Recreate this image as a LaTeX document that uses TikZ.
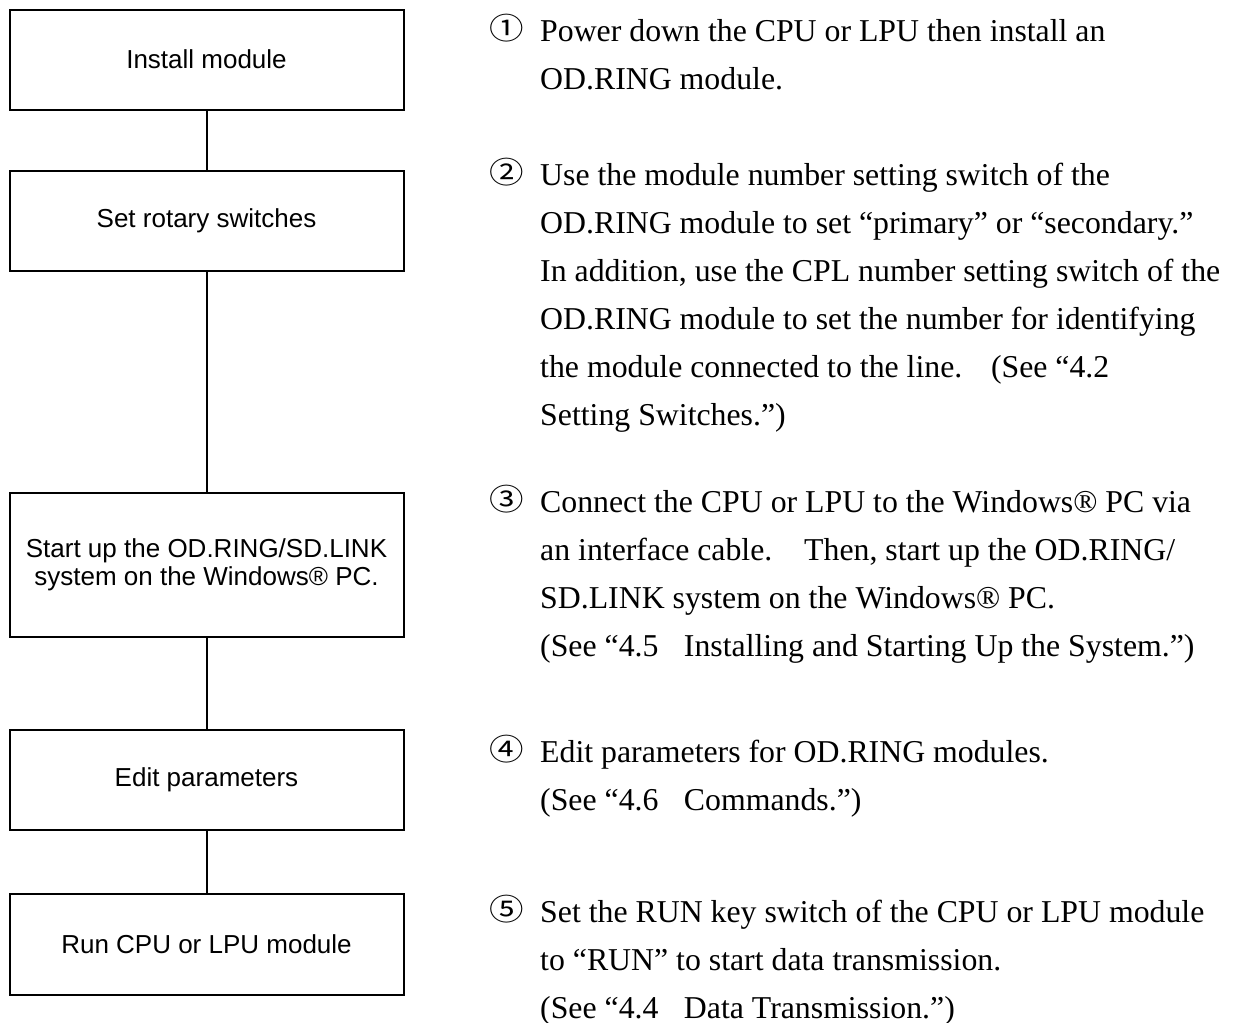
\documentclass[tikz,border=0pt]{standalone}
\usepackage{fontspec}
\setmainfont{Liberation Serif}
\newfontfamily\boxfont{Liberation Sans}
\newfontfamily\circfont{Noto Sans CJK JP}
\begin{document}
\begin{tikzpicture}[x=1pt,y=-1pt,
  stepbox/.style={draw, line width=2pt, minimum width=394pt, inner sep=0pt, align=center, font=\boxfont\fontsize{26}{28}\selectfont},
  link/.style={line width=2pt},
  txt/.style={anchor=base west, inner sep=0pt, font=\fontsize{31.8}{48}\selectfont},
  num/.style={anchor=center, inner sep=0pt, xscale=1.15, transform shape, font=\circfont\fontsize{30}{30}\selectfont}]
\useasboundingbox (0,0) rectangle (1240,1023);
% flow boxes
\node[stepbox, minimum height=100pt] (b1) at (206.5,59.5) {Install module};
\node[stepbox, minimum height=100pt] (b2) at (206.5,220.5) {Set rotary switches};
\node[stepbox, minimum height=144pt] (b3) at (206.5,564.5) {Start up the OD.RING/SD.LINK\\system on the Windows® PC.};
\node[stepbox, minimum height=100pt] (b4) at (206.5,779.5) {Edit parameters};
\node[stepbox, minimum height=101pt] (b5) at (206.5,944) {Run CPU or LPU module};
\draw[link] (b1) -- (b2);
\draw[link] (b2) -- (b3);
\draw[link] (b3) -- (b4);
\draw[link] (b4) -- (b5);
% step 1
\node[num] (n1) at (507,28) {①};
\node[txt] (t1a) at (540,41.5) {Power down the CPU or LPU then install an};
\node[txt] (t1b) at (540,89.5) {OD.RING module.};
% step 2
\node[num] (n2) at (507,172) {②};
\node[txt] (t2a) at (540,185) {Use the module number setting switch of the};
\node[txt] (t2b) at (540,233) {OD.RING module to set “primary” or “secondary.”};
\node[txt] (t2c) at (540,281) {In addition, use the CPL number setting switch of the};
\node[txt] (t2d) at (540,329) {OD.RING module to set the number for identifying};
\node[txt] (t2e) at (540,377) {the module connected to the line.\hspace{0.9em}(See “4.2};
\node[txt] (t2f) at (540,425) {Setting Switches.”)};
% step 3
\node[num] (n3) at (507,499) {③};
\node[txt] (t3a) at (540,512) {Connect the CPU or LPU to the Windows® PC via};
\node[txt] (t3b) at (540,560) {an interface cable.\hspace{1em}Then, start up the OD.RING/};
\node[txt] (t3c) at (540,608) {SD.LINK system on the Windows® PC.};
\node[txt] (t3d) at (540,656) {(See “4.5\hspace{0.8em}Installing and Starting Up the System.”)};
% step 4
\node[num] (n4) at (507,749) {④};
\node[txt] (t4a) at (540,762) {Edit parameters for OD.RING modules.};
\node[txt] (t4b) at (540,810) {(See “4.6\hspace{0.8em}Commands.”)};
% step 5
\node[num] (n5) at (507,909) {⑤};
\node[txt] (t5a) at (540,922) {Set the RUN key switch of the CPU or LPU module};
\node[txt] (t5b) at (540,970) {to “RUN” to start data transmission.};
\node[txt] (t5c) at (540,1018) {(See “4.4\hspace{0.8em}Data Transmission.”)};
\end{tikzpicture}
\end{document}
